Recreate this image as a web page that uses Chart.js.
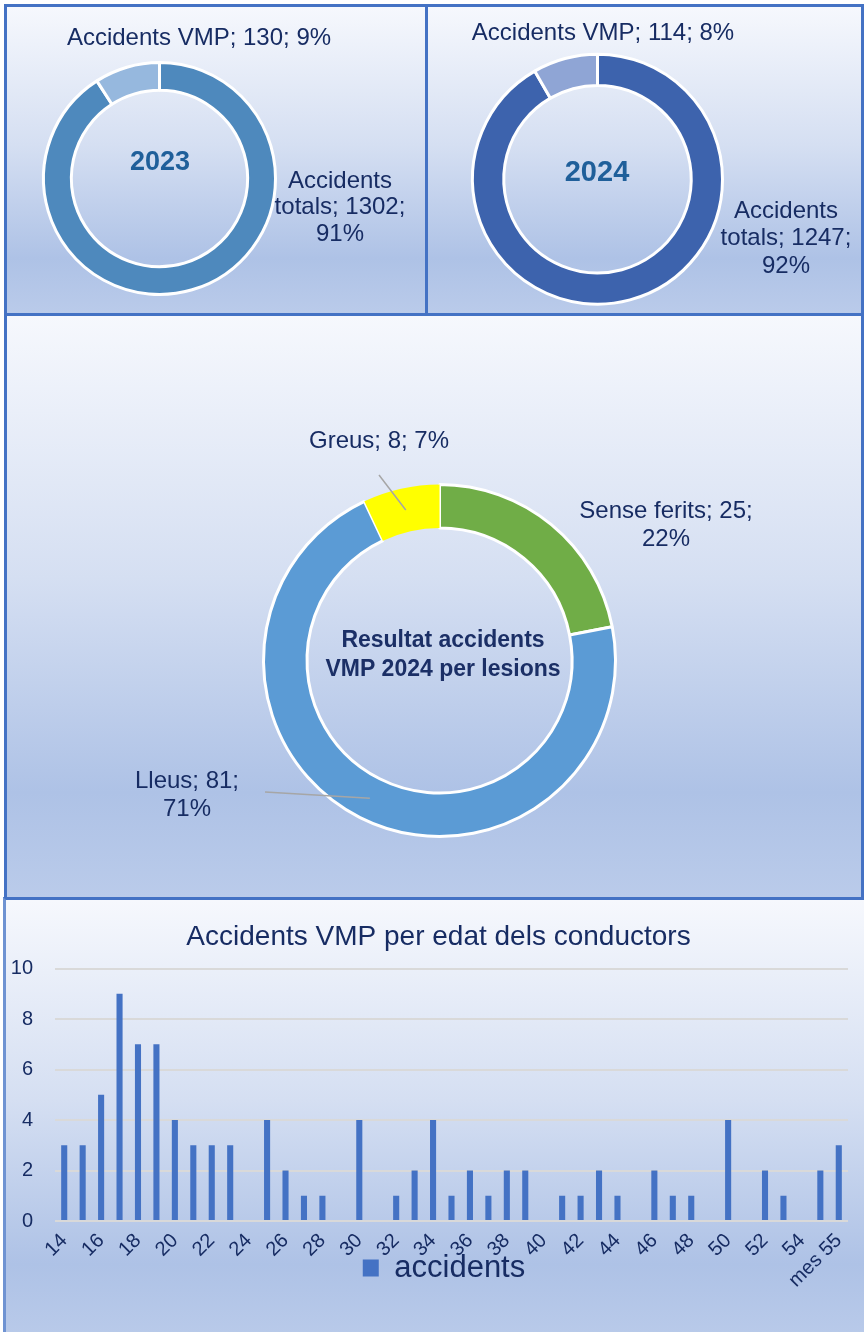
<!DOCTYPE html>
<html><head><meta charset="utf-8">
<script src="https://cdn.jsdelivr.net/npm/chart.js@4.4.1/dist/chart.umd.min.js"></script>
<style>
html,body{margin:0;padding:0;background:#fff;}
#root{position:relative;width:864px;height:1332px;overflow:hidden;background:#fff;}
.panel{position:absolute;box-sizing:border-box;border:3px solid #4472C4;background:linear-gradient(to bottom,#F6F8FD 0%,#D5DFF2 45%,#AEC2E6 82%,#BACBEA 100%);}
canvas{position:absolute;}
</style></head><body>
<div id="root">
 <div class="panel" style="left:4px;top:4px;width:425px;height:313px"></div>
 <div class="panel" style="left:425px;top:4px;width:439px;height:313px"></div>
 <div class="panel" style="left:4px;top:313px;width:860px;height:587px"></div>
 <div class="panel" style="left:3px;top:897px;width:880px;height:450px;border-left-color:#6F93D2"></div>
 <canvas id="c1" width="428" height="316" style="left:0;top:0"></canvas>
 <canvas id="c2" width="436" height="316" style="left:428px;top:0"></canvas>
 <canvas id="c3" width="864" height="582" style="left:0;top:316px"></canvas>
 <canvas id="c4" width="864" height="434" style="left:0;top:898px"></canvas>
</div>
<script>
// ---------- data ----------
const labels2023 = ['Accidents totals', 'Accidents VMP'];
const values2023 = [1302, 130];
const labels2024 = ['Accidents totals', 'Accidents VMP'];
const values2024 = [1247, 114];
const lesionLabels = ['Sense ferits', 'Lleus', 'Greus'];
const lesionValues = [25, 81, 8];
const ageLabels = ['14','15','16','17','18','19','20','21','22','23','24','25','26','27','28','29','30','31','32','33','34','35','36','37','38','39','40','41','42','43','44','45','46','47','48','49','50','51','52','53','54','55','mes 55'];
const ageValues = [3,3,5,9,7,7,4,3,3,3,0,4,2,1,1,0,4,0,1,2,4,1,2,1,2,2,0,1,1,2,1,0,2,1,1,0,4,0,2,1,0,2,3];
const seriesName = 'accidents';
const barTitle = 'Accidents VMP per edat dels conductors';
const center2023 = ['2023'];
const center2024 = ['2024'];
const centerLesions = ['Resultat accidents', 'VMP 2024 per lesions'];

// ---------- style ----------
const FONT = '"Liberation Sans", Arial, sans-serif';
const NAVY = '#172C63';
Chart.defaults.font.family = FONT;

function wrap(ctx, text, maxW) {
  const words = text.split(' '); const lines = []; let cur = '';
  for (const w of words) {
    const t = cur ? cur + ' ' + w : w;
    if (cur && ctx.measureText(t).width > maxW) { lines.push(cur); cur = w; } else cur = t;
  }
  if (cur) lines.push(cur);
  return lines;
}

const donutLabelPlugin = {
  id: 'donutLabels',
  afterDatasetsDraw(chart, args, opts) {
    const ctx = chart.ctx; const ds = chart.data.datasets[0]; const meta = chart.getDatasetMeta(0);
    const total = ds.data.reduce((a, b) => a + b, 0);
    ctx.save();
    (opts.labels || []).forEach(l => {
      const i = l.index; const v = ds.data[i];
      const pct = Math.round(v / total * 100);
      const text = chart.data.labels[i] + '; ' + v + '; ' + pct + '%';
      if (l.leader) {
        const p = meta.data[i].tooltipPosition();
        ctx.strokeStyle = '#A6A6A6'; ctx.lineWidth = 1.5;
        ctx.beginPath(); ctx.moveTo(l.leader[0], l.leader[1]); ctx.lineTo(p.x, p.y); ctx.stroke();
      }
      ctx.font = opts.font; ctx.fillStyle = NAVY; ctx.textAlign = 'center'; ctx.textBaseline = 'middle';
      wrap(ctx, text, l.maxW).forEach((s, k) => ctx.fillText(s, l.x, l.y + k * opts.lineHeight));
    });
    const c = opts.center;
    if (c) {
      ctx.font = c.font; ctx.fillStyle = c.color; ctx.textAlign = 'center'; ctx.textBaseline = 'middle';
      c.lines.forEach((s, k) => ctx.fillText(s, c.x, c.y + k * (c.lineHeight || 0)));
    }
    ctx.restore();
  }
};

function donut(id, labels, values, colors, borderWidths, L) {
  const cv = document.getElementById(id);
  const W = cv.width, H = cv.height;
  const a = Math.min(L.cx, W - L.cx, L.cy, H - L.cy) - 1;
  new Chart(cv, {
    type: 'doughnut',
    data: { labels: labels, datasets: [{ data: values, backgroundColor: colors, borderColor: '#FFFFFF', borderWidth: borderWidths, hoverOffset: 0 }] },
    options: {
      responsive: false, animation: false, events: [],
      radius: L.r, cutout: L.cutout,
      layout: { padding: { left: L.cx - a, right: W - L.cx - a, top: L.cy - a, bottom: H - L.cy - a } },
      plugins: { legend: { display: false }, tooltip: { enabled: false },
        donutLabels: { font: '24px ' + FONT, lineHeight: L.lineHeight, labels: L.labels, center: L.center } }
    },
    plugins: [donutLabelPlugin]
  });
}

donut('c1', labels2023, values2023, ['#4E89BD', '#96B8DE'], 3, {
  cx: 159.5, cy: 178.5, r: 116, cutout: '76%', lineHeight: 26.5,
  labels: [{ index: 1, x: 199, y: 38, maxW: 400 }, { index: 0, x: 340, y: 181, maxW: 140 }],
  center: { x: 160, y: 163, lines: center2023, font: 'bold 27px ' + FONT, color: '#1F5F9A' }
});
donut('c2', labels2024, values2024, ['#3D63AD', '#8FA5D5'], 3, {
  cx: 169.5, cy: 179.2, r: 125, cutout: '75%', lineHeight: 27.5,
  labels: [{ index: 1, x: 175, y: 33, maxW: 400 }, { index: 0, x: 358, y: 211, maxW: 140 }],
  center: { x: 169, y: 173, lines: center2024, font: 'bold 29px ' + FONT, color: '#1F5F9A' }
});
donut('c3', lesionLabels, lesionValues, ['#70AD47', '#5B9BD5', '#FFFF00'], [3, 3, 0], {
  cx: 439.5, cy: 344.5, r: 176, cutout: '75.3%', lineHeight: 28,
  labels: [{ index: 2, x: 379, y: 125, maxW: 300, leader: [379, 159] },
           { index: 0, x: 666, y: 195, maxW: 190 },
           { index: 1, x: 187, y: 465, maxW: 120, leader: [265, 476] }],
  center: { x: 443, y: 325, lines: centerLesions, lineHeight: 29, font: 'bold 23px ' + FONT, color: '#1B2F66' }
});

// moves the library's title and legend boxes to where the reference has them
const boxPlacement = {
  id: 'boxPlacement',
  afterLayout(chart, args, opts) {
    const t = chart.titleBlock;
    if (t) { t.left = opts.titleLeft; }
    const lg = chart.legend;
    if (lg) { const h = lg.height; lg.top = opts.legendTop; lg.bottom = opts.legendTop + h; lg.left = opts.legendLeft; }
    const x = chart.scales.x;
    if (x) { x.bottom = chart.height; }
  }
};

new Chart(document.getElementById('c4'), {
  type: 'bar',
  data: { labels: ageLabels, datasets: [{ label: seriesName, data: ageValues, backgroundColor: '#4472C4', borderWidth: 0, barPercentage: 0.33, categoryPercentage: 1 }] },
  options: {
    responsive: false, animation: false, events: [],
    layout: { padding: { left: 5, right: 16, top: 0, bottom: 0 } },
    plugins: {
      title: { display: true, text: barTitle, color: NAVY, font: { family: FONT, size: 28, weight: 'normal' }, padding: { top: 22, bottom: 15 } },
      legend: { display: true, position: 'bottom', labels: { color: NAVY, font: { family: FONT, size: 31 }, boxWidth: 16, boxHeight: 17, padding: 10 } },
      tooltip: { enabled: false },
      boxPlacement: { titleLeft: 29, legendTop: 344.5, legendLeft: 40 }
    },
    scales: {
      x: {
        grid: { display: false }, border: { display: false },
        ticks: { autoSkip: false, maxRotation: 45, minRotation: 45, color: NAVY, font: { family: FONT, size: 20 }, padding: 0,
          callback: function (v, i) { return i % 2 === 0 ? this.getLabelForValue(v) : ''; } },
        afterFit: s => { s.height = 60; }
      },
      y: {
        min: 0, max: 10,
        grid: { color: '#D9D9D9', lineWidth: 2, drawTicks: false }, border: { display: false },
        ticks: { stepSize: 2, color: NAVY, font: { family: FONT, size: 20 }, padding: 22 },
        afterFit: s => { s.width = 50; }
      }
    }
  },
  plugins: [boxPlacement]
});
</script>
</body></html>
